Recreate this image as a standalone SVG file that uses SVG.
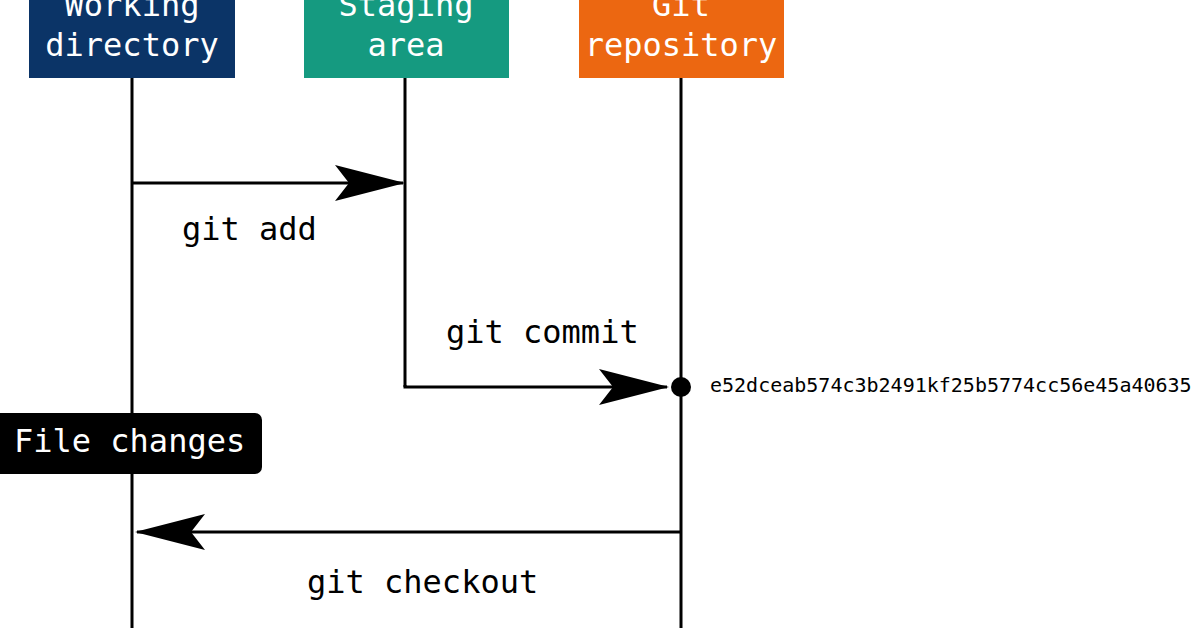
<svg xmlns="http://www.w3.org/2000/svg" width="1196" height="628" viewBox="0 0 1196 628">
<style>
.t{font-family:"DejaVu Sans Mono",monospace;font-size:32px}
.h{fill:#fff;text-anchor:middle}
.ln{stroke:#000;stroke-width:3;fill:none}
</style>
<defs>
<marker id="a" viewBox="0 0 70 40" refX="68" refY="20" markerWidth="70" markerHeight="40" markerUnits="userSpaceOnUse" orient="auto">
<path d="M0,2 L70,20 L0,38 L14,20 Z" fill="#000"/>
</marker>
</defs>
<rect width="1196" height="628" fill="#fff"/>
<g id="lifelines">
<line class="ln" x1="132" y1="78" x2="132" y2="628"/>
<line class="ln" x1="405" y1="78" x2="405" y2="387"/>
<line class="ln" x1="681" y1="78" x2="681" y2="628"/>
</g>
<g id="wd"><rect x="29" y="-10" width="206" height="88" fill="#0b3467"/><text class="t h" x="132" y="16">Working</text><text class="t h" x="132" y="56">directory</text></g>
<g id="sa"><rect x="304" y="-10" width="205" height="88" fill="#159a80"/><text class="t h" x="406" y="16">Staging</text><text class="t h" x="406" y="56">area</text></g>
<g id="gr"><rect x="579" y="-10" width="205" height="88" fill="#ec6711"/><text class="t h" x="681" y="16">Git</text><text class="t h" x="681" y="56">repository</text></g>
<g id="connectors">
<line class="ln" x1="132" y1="183" x2="403" y2="183" marker-end="url(#a)"/>
<polyline class="ln" points="405,385 405,387 667,387" marker-end="url(#a)"/>
<line class="ln" x1="681" y1="532" x2="137" y2="532" marker-end="url(#a)"/>
</g>
<text class="t" x="182" y="240">git add</text>
<text class="t" x="446" y="343">git commit</text>
<text class="t" x="307" y="593">git checkout</text>
<g id="commit"><circle cx="681" cy="387" r="10" fill="#000"/><text x="710" y="392" font-family="DejaVu Sans Mono,monospace" font-size="20">e52dceab574c3b2491kf25b5774cc56e45a40635</text></g>
<g id="fc"><rect x="-10" y="413" width="272" height="61" rx="7" fill="#000"/><text class="t" x="14" y="452" fill="#fff">File changes</text></g>
</svg>
